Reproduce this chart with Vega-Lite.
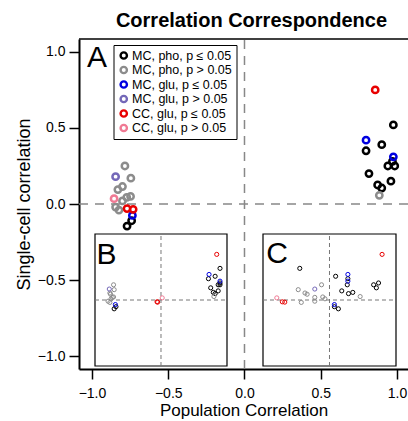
{
  "$schema": "https://vega.github.io/schema/vega-lite/v6.json",
  "autosize": {"type": "none"},
  "padding": {"left": 79, "top": 39, "right": 0, "bottom": 52},
  "width": 329,
  "height": 330,
  "title": {"text": "Correlation Correspondence", "fontSize": 20, "fontWeight": "bold", "font": "Liberation Sans", "color": "black", "anchor": "middle", "offset": 7, "dx": 8},
  "data": {"values": [
    {"g": "MC, pho, p ≤ 0.05", "pop": -0.74, "popB": -0.74, "popC": 0.08, "sc": -0.11},
    {"g": "MC, pho, p ≤ 0.05", "pop": -0.77, "popB": -0.77, "popC": 0.145, "sc": -0.145},
    {"g": "MC, pho, p ≤ 0.05", "pop": 0.976, "popB": 0.97, "popC": -0.485, "sc": 0.52},
    {"g": "MC, pho, p ≤ 0.05", "pop": 0.90, "popB": 0.89, "popC": 0.10, "sc": 0.39},
    {"g": "MC, pho, p ≤ 0.05", "pop": 0.797, "popB": 0.78, "popC": 0.30, "sc": 0.35},
    {"g": "MC, pho, p ≤ 0.05", "pop": 0.97, "popB": 0.97, "popC": 0.80, "sc": 0.28},
    {"g": "MC, pho, p ≤ 0.05", "pop": 0.94, "popB": 0.94, "popC": 0.72, "sc": 0.25},
    {"g": "MC, pho, p ≤ 0.05", "pop": 0.985, "popB": 0.97, "popC": 0.29, "sc": 0.25},
    {"g": "MC, pho, p ≤ 0.05", "pop": 0.816, "popB": 0.817, "popC": 0.765, "sc": 0.20},
    {"g": "MC, pho, p ≤ 0.05", "pop": 0.96, "popB": 0.94, "popC": 0.20, "sc": 0.15},
    {"g": "MC, pho, p ≤ 0.05", "pop": 0.873, "popB": 0.86, "popC": 0.38, "sc": 0.125},
    {"g": "MC, pho, p ≤ 0.05", "pop": 0.90, "popB": 0.89, "popC": 0.31, "sc": 0.105},
    {"g": "MC, pho, p > 0.05", "pop": -0.784, "popB": -0.78, "popC": -0.13, "sc": 0.25},
    {"g": "MC, pho, p > 0.05", "pop": -0.745, "popB": -0.77, "popC": -0.51, "sc": 0.17},
    {"g": "MC, pho, p > 0.05", "pop": -0.80, "popB": -0.84, "popC": -0.40, "sc": 0.115},
    {"g": "MC, pho, p > 0.05", "pop": -0.83, "popB": -0.83, "popC": -0.365, "sc": 0.095},
    {"g": "MC, pho, p > 0.05", "pop": -0.747, "popB": -0.78, "popC": -0.11, "sc": 0.05},
    {"g": "MC, pho, p > 0.05", "pop": -0.772, "popB": -0.80, "popC": -0.24, "sc": 0.043},
    {"g": "MC, pho, p > 0.05", "pop": -0.80, "popB": -0.82, "popC": -0.074, "sc": 0.02},
    {"g": "MC, pho, p > 0.05", "pop": -0.845, "popB": -0.87, "popC": -0.24, "sc": -0.02},
    {"g": "MC, pho, p > 0.05", "pop": -0.823, "popB": -0.84, "popC": -0.46, "sc": -0.04},
    {"g": "MC, pho, p > 0.05", "pop": 0.884, "popB": 0.87, "popC": 0.50, "sc": 0.057},
    {"g": "MC, glu, p ≤ 0.05", "pop": -0.735, "popB": -0.75, "popC": 0.08, "sc": -0.075},
    {"g": "MC, glu, p ≤ 0.05", "pop": 0.797, "popB": 0.79, "popC": 0.30, "sc": 0.42},
    {"g": "MC, glu, p ≤ 0.05", "pop": 0.976, "popB": 0.97, "popC": 0.30, "sc": 0.31},
    {"g": "MC, glu, p > 0.05", "pop": -0.845, "popB": -0.85, "popC": -0.24, "sc": 0.18},
    {"g": "CC, glu, p ≤ 0.05", "pop": -0.77, "popB": -0.065, "popC": -0.77, "sc": -0.03},
    {"g": "CC, glu, p ≤ 0.05", "pop": -0.73, "popB": -0.055, "popC": -0.73, "sc": -0.035},
    {"g": "CC, glu, p ≤ 0.05", "pop": 0.857, "popB": 0.916, "popC": 0.858, "sc": 0.75},
    {"g": "CC, glu, p > 0.05", "pop": -0.855, "popB": 0.02, "popC": -0.86, "sc": 0.035}
  ]},
  "layer": [
    {
      "data": {"values": [{}]},
      "mark": {"type": "rule", "stroke": "#888888", "strokeWidth": 1.5, "strokeDash": [9, 7]},
      "encoding": {
        "x": {"datum": 0, "type": "quantitative", "scale": {"domain": [-1.085, 1.072], "nice": false, "zero": false}, "axis": null},
        "y": {"datum": -1.085, "type": "quantitative", "scale": {"domain": [-1.085, 1.085], "nice": false, "zero": false}, "axis": null},
        "y2": {"datum": 1.085}
      }
    },
    {
      "data": {"values": [{}]},
      "mark": {"type": "rule", "stroke": "#888888", "strokeWidth": 1.5, "strokeDash": [9, 7]},
      "encoding": {
        "y": {"datum": 0, "type": "quantitative", "scale": {"domain": [-1.085, 1.085], "nice": false, "zero": false}, "axis": null},
        "x": {"datum": -1.085, "type": "quantitative", "scale": {"domain": [-1.085, 1.072], "nice": false, "zero": false}, "axis": null},
        "x2": {"datum": 1.072}
      }
    },
    {
      "data": {"values": [{}]},
      "mark": {"type": "rule", "stroke": "black", "strokeWidth": 1.5},
      "encoding": {
        "y": {"datum": 1.085, "type": "quantitative", "scale": {"domain": [-1.085, 1.085], "nice": false, "zero": false}, "axis": null},
        "x": {"datum": -1.085, "type": "quantitative", "scale": {"domain": [-1.085, 1.072], "nice": false, "zero": false}, "axis": null},
        "x2": {"datum": 1.072}
      }
    },
    {
      "mark": {"type": "point", "shape": "circle", "filled": false, "size": 40, "strokeWidth": 2.5, "opacity": 1},
      "encoding": {
        "x": {"field": "pop", "type": "quantitative", "scale": {"domain": [-1.085, 1.072], "nice": false, "zero": false}, "axis": {"title": "Population Correlation", "values": [-1, -0.5, 0, 0.5, 1], "labelPadding": 7, "titlePadding": 2}},
        "y": {"field": "sc", "type": "quantitative", "scale": {"domain": [-1.085, 1.085], "nice": false, "zero": false}, "axis": {"title": "Single-cell correlation", "values": [-1, -0.5, 0, 0.5, 1], "titleFontSize": 18}},
        "color": {"field": "g", "type": "nominal",
          "scale": {"domain": ["MC, pho, p ≤ 0.05", "MC, pho, p > 0.05", "MC, glu, p ≤ 0.05", "MC, glu, p > 0.05", "CC, glu, p ≤ 0.05", "CC, glu, p > 0.05"], "range": ["#000000", "#8c8c8c", "#0000e0", "#7468b8", "#e80000", "#f07a94"]},
          "legend": {"title": null, "orient": "none", "legendX": 34.5, "legendY": 6, "strokeColor": "black", "fillColor": "white", "padding": 4, "labelFontSize": 12.5, "labelFont": "Liberation Sans", "labelColor": "black", "symbolSize": 40, "symbolStrokeWidth": 2.4, "symbolType": "circle", "rowPadding": 1.5, "clipHeight": 13, "labelOffset": 2, "labelLimit": 200}}
      }
    },
    {
      "data": {"values": [{}]},
      "mark": {"type": "text", "text": "A", "fontSize": 30, "font": "Liberation Sans", "align": "left", "baseline": "alphabetic", "color": "black"},
      "encoding": {
        "x": {"datum": -1.033, "type": "quantitative", "scale": {"domain": [-1.085, 1.072], "nice": false, "zero": false}, "axis": null},
        "y": {"datum": 0.9, "type": "quantitative", "scale": {"domain": [-1.085, 1.085], "nice": false, "zero": false}, "axis": null}
      }
    },
    {
      "data": {"values": [{}]},
      "mark": {"type": "rect", "fill": "white", "stroke": "black", "strokeWidth": 1.2},
      "encoding": {
        "x": {"datum": -1.085, "type": "quantitative", "scale": {"domain": [-1.348, 4.0606], "nice": false, "zero": false}, "axis": null},
        "x2": {"datum": 1.085},
        "y": {"datum": -1.085, "type": "quantitative", "scale": {"domain": [-1.1343, 4.2907], "nice": false, "zero": false}, "axis": null},
        "y2": {"datum": 1.085}
      }
    },
    {
      "data": {"values": [{}]},
      "mark": {"type": "rule", "stroke": "#777777", "strokeWidth": 1, "strokeDash": [4, 3]},
      "encoding": {
        "x": {"datum": 0, "type": "quantitative", "scale": {"domain": [-1.348, 4.0606], "nice": false, "zero": false}, "axis": null},
        "y": {"datum": -1.085, "type": "quantitative", "scale": {"domain": [-1.1343, 4.2907], "nice": false, "zero": false}, "axis": null},
        "y2": {"datum": 1.085}
      }
    },
    {
      "data": {"values": [{}]},
      "mark": {"type": "rule", "stroke": "#777777", "strokeWidth": 1, "strokeDash": [4, 3]},
      "encoding": {
        "y": {"datum": 0, "type": "quantitative", "scale": {"domain": [-1.1343, 4.2907], "nice": false, "zero": false}, "axis": null},
        "x": {"datum": -1.085, "type": "quantitative", "scale": {"domain": [-1.348, 4.0606], "nice": false, "zero": false}, "axis": null},
        "x2": {"datum": 1.085}
      }
    },
    {
      "mark": {"type": "point", "shape": "circle", "filled": false, "size": 17, "strokeWidth": 1, "opacity": 1},
      "encoding": {
        "x": {"field": "popB", "type": "quantitative", "scale": {"domain": [-1.348, 4.0606], "nice": false, "zero": false}, "axis": null},
        "y": {"field": "sc", "type": "quantitative", "scale": {"domain": [-1.1343, 4.2907], "nice": false, "zero": false}, "axis": null},
        "color": {"field": "g", "type": "nominal"}
      }
    },
    {
      "data": {"values": [{}]},
      "mark": {"type": "text", "text": "B", "fontSize": 30, "font": "Liberation Sans", "align": "left", "baseline": "alphabetic", "color": "black"},
      "encoding": {
        "x": {"datum": -1.06, "type": "quantitative", "scale": {"domain": [-1.348, 4.0606], "nice": false, "zero": false}, "axis": null},
        "y": {"datum": 0.60, "type": "quantitative", "scale": {"domain": [-1.1343, 4.2907], "nice": false, "zero": false}, "axis": null}
      }
    },
    {
      "data": {"values": [{}]},
      "mark": {"type": "rect", "fill": "white", "stroke": "black", "strokeWidth": 1.2},
      "encoding": {
        "x": {"datum": -1.085, "type": "quantitative", "scale": {"domain": [-4.0871, 1.2808], "nice": false, "zero": false}, "axis": null},
        "x2": {"datum": 1.085},
        "y": {"datum": -1.085, "type": "quantitative", "scale": {"domain": [-1.1343, 4.2907], "nice": false, "zero": false}, "axis": null},
        "y2": {"datum": 1.085}
      }
    },
    {
      "data": {"values": [{}]},
      "mark": {"type": "rule", "stroke": "#777777", "strokeWidth": 1, "strokeDash": [4, 3]},
      "encoding": {
        "x": {"datum": 0, "type": "quantitative", "scale": {"domain": [-4.0871, 1.2808], "nice": false, "zero": false}, "axis": null},
        "y": {"datum": -1.085, "type": "quantitative", "scale": {"domain": [-1.1343, 4.2907], "nice": false, "zero": false}, "axis": null},
        "y2": {"datum": 1.085}
      }
    },
    {
      "data": {"values": [{}]},
      "mark": {"type": "rule", "stroke": "#777777", "strokeWidth": 1, "strokeDash": [4, 3]},
      "encoding": {
        "y": {"datum": 0, "type": "quantitative", "scale": {"domain": [-1.1343, 4.2907], "nice": false, "zero": false}, "axis": null},
        "x": {"datum": -1.085, "type": "quantitative", "scale": {"domain": [-4.0871, 1.2808], "nice": false, "zero": false}, "axis": null},
        "x2": {"datum": 1.085}
      }
    },
    {
      "mark": {"type": "point", "shape": "circle", "filled": false, "size": 17, "strokeWidth": 1, "opacity": 1},
      "encoding": {
        "x": {"field": "popC", "type": "quantitative", "scale": {"domain": [-4.0871, 1.2808], "nice": false, "zero": false}, "axis": null},
        "y": {"field": "sc", "type": "quantitative", "scale": {"domain": [-1.1343, 4.2907], "nice": false, "zero": false}, "axis": null},
        "color": {"field": "g", "type": "nominal"}
      }
    },
    {
      "data": {"values": [{}]},
      "mark": {"type": "text", "text": "C", "fontSize": 30, "font": "Liberation Sans", "align": "left", "baseline": "alphabetic", "color": "black"},
      "encoding": {
        "x": {"datum": -1.03, "type": "quantitative", "scale": {"domain": [-4.0871, 1.2808], "nice": false, "zero": false}, "axis": null},
        "y": {"datum": 0.605, "type": "quantitative", "scale": {"domain": [-1.1343, 4.2907], "nice": false, "zero": false}, "axis": null}
      }
    }
  ],
  "resolve": {"scale": {"x": "independent", "y": "independent"}},
  "config": {
    "view": {"stroke": null},
    "font": "Liberation Sans",
    "axis": {
      "format": ".1f",
      "grid": false,
      "domainColor": "black",
      "domainWidth": 2,
      "tickColor": "black",
      "tickWidth": 1.5,
      "tickSize": 10,
      "labelFont": "Liberation Sans",
      "labelFontSize": 14,
      "labelColor": "black",
      "labelPadding": 4,
      "labelFlush": false,
      "titleFont": "Liberation Sans",
      "titleFontSize": 17,
      "titleFontWeight": "normal",
      "titleColor": "black",
      "titlePadding": 4
    }
  }
}
